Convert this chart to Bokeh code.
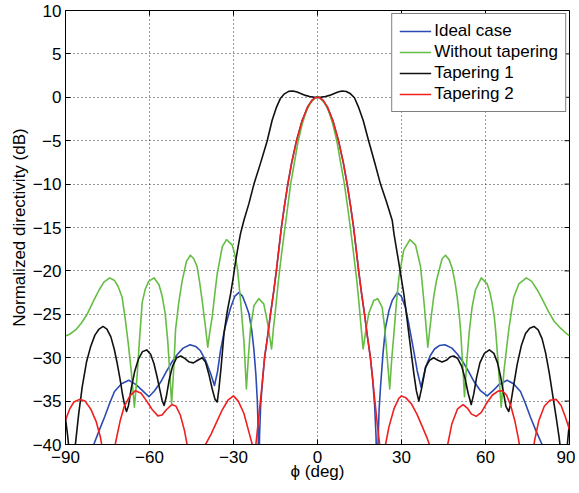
from bokeh.plotting import figure
from bokeh.models import Range1d, FixedTicker
from bokeh.embed import file_html
from bokeh.resources import INLINE

# ---------------- data ----------------
x_ticks = [-90, -60, -30, 0, 30, 60, 90]
y_ticks = [-40, -35, -30, -25, -20, -15, -10, -5, 0, 5, 10]

series_names = ["Ideal case", "Without tapering", "Tapering 1", "Tapering 2"]

phi_ideal = [-90, -86, -83, -81.5, -79.9, -78, -76, -74.3, -72.5, -70, -67.4, -64.8, -62.5, -60.2,
             -58.2, -56, -54, -52, -50, -48, -45.5, -43.5, -41.8, -40, -38.2, -36.8, -35.7, -34.6,
             -33, -31.1, -29.5, -28.1, -26.8, -25.6, -24.5, -23.5, -22.7, -22.0, -21.5, -21.2,
             -21.0, -20.7, -20.3, -19.6, -18.9, -17.8, -16.8, -15.7, -14.7, -13.8, -12.9, -11.8,
             -10.6, -9.2, -7.5, -5.5, -3.5, -2, -1, 0,
             1, 2, 3.5, 5.5, 7.5, 9.2, 10.6, 11.8, 12.9, 13.8, 14.7, 15.7, 16.8, 17.8, 18.9, 19.7,
             20.4, 20.9, 21.3, 21.6, 22.0, 22.5, 23.4, 24.3, 25.5, 26.7, 28.5, 29.9, 31.4, 32.6,
             33.8, 34.8, 35.6, 37.0, 38.6, 40.2, 41.8, 43.5, 45.5, 48, 50, 52, 54, 56, 58.2, 60.6,
             62.7, 64.8, 67.7, 70, 72.5, 74.3, 76, 78, 80.2, 83, 86, 90]
dir_ideal = [-55, -48, -43.5, -41.5, -40, -38.4, -36.8, -35.3, -33.9, -33.0, -32.6, -33.1, -33.8, -34.5,
             -33.8, -32.8, -31.6, -30.5, -29.6, -28.9, -28.5, -28.7, -29.2, -30.3, -31.8, -33.2, -31.6, -29.1,
             -26.5, -24.3, -22.9, -22.5, -22.9, -23.9, -24.9, -26.8, -29.1, -32.0, -34.9, -38,
             -45, -39, -35.5, -32.5, -30, -27.5, -25, -22.5, -20, -17.5, -15, -12.5,
             -10, -7.5, -5, -2.7, -1.1, -0.36, -0.09, 0,
             -0.09, -0.36, -1.1, -2.7, -5, -7.5, -10, -12.5, -15, -17.5, -20, -22.5, -25, -27.5, -30, -32.5,
             -35.5, -39, -45, -40, -36, -33.4, -29.5, -26.5, -24.6, -23.4, -22.5, -22.9, -24.2, -26.1,
             -28.2, -30.0, -31.5, -33.4, -31.1, -29.8, -29.0, -28.6, -28.5, -28.9, -29.6, -30.5, -31.6, -32.8, -33.8, -34.4,
             -33.8, -33.1, -32.6, -33.0, -33.9, -35.3, -36.8, -38.4, -40, -43, -47.5, -55]

phi_notaper = [-90, -88.5, -86.4, -84.3, -82.3, -79.9, -78, -76.3, -74.2, -72.5, -71.2, -69.8, -68.6,
               -67.5, -66.5, -65.4, -64.4, -63.5, -62.6, -61.5, -60.3, -58.4, -56.6, -55.5, -54.4,
               -53.5, -52.8, -52.1, -51.3, -50.7, -49.5, -48.3, -46.8, -45.4, -44.2, -43, -42.1,
               -41.2, -40, -39.2, -38.5, -37.6, -36.7, -35.8, -34, -32.5, -30.5, -29.6, -28.7,
               -28.1, -27.5, -26.9, -26.3, -25.8, -25.4, -24.7, -23.9, -22.7, -21, -19.2, -18,
               -17.2, -16.4, -15.7, -15, -14.3, -13.8, -12.9, -11.9, -11, -9.6, -8.4, -7.0, -5.5,
               -4, -2.5, -1, 0,
               1, 2.5, 4, 5.5, 7.0, 8.4, 9.6, 11, 12.0, 13, 14, 14.9, 15.6, 16.3, 17.2, 18.3, 20.1,
               21.5, 23.1, 23.9, 24.6, 25.2, 25.8, 26.5, 27.3, 28.2, 29.1, 30.8, 33, 35, 36.8,
               37.5, 38.2, 38.8, 39.4, 40.6, 41.5, 42.5, 44.5, 45.7, 47, 48.1, 49.1, 49.9, 50.6,
               51.1, 51.8, 52.5, 53.3, 54.2, 55.2, 56.4, 58.5, 60.6, 61.6, 62.4, 63.1, 63.6, 64.6,
               65.6, 66.6, 67.5, 68.3, 69.2, 70.1, 71.9, 74.6, 76.5, 78.5, 80.5, 82.5, 84.5, 86.8,
               88.5, 90]
dir_notaper = [-27.5, -27.3, -26.8, -26.0, -25.0, -23.4, -22.2, -21.3, -20.8, -21.1, -21.8, -23.0, -25.7,
               -28.6, -31.6, -35.7, -32.0, -27.6, -23.6, -22.1, -21.2, -20.8, -21.6, -22.9, -24.9,
               -28.0, -31.5, -35.3, -31.0, -26.8, -23.5, -21.1, -18.9, -18.2, -18.6, -19.5, -21.3,
               -23.4, -26.5, -28.8, -27.1, -25.3, -22.7, -20.3, -17.2, -16.4, -17.0, -18.0, -19.5,
               -21.3, -23.4, -25.7, -28.0, -31.0, -33.6, -30.0, -26.5, -24.0, -23.2, -23.8, -25.7,
               -27.3, -29.0, -26.5, -24.5, -22.2, -20.7, -18.2, -15.7, -13.5, -10.0, -7.8, -5.2, -3.1,
               -1.6, -0.64, -0.1, 0,
               -0.1, -0.64, -1.6, -3.1, -5.2, -7.8, -10.0, -13.2, -15.7, -18.3, -21.0, -24.0, -26.6, -29.0, -27.0, -24.9, -23.4,
               -23.2, -24.2, -26.3, -28.8, -31.2, -33.6, -30.2, -27.2, -23.6, -20.7, -17.6, -16.4, -17.0, -19.5,
               -21.8, -24.2, -26.5, -28.8, -25.3, -23.0, -21.1, -18.6, -18.2, -18.7, -19.7, -21.3, -23.0, -25.0,
               -26.8, -30.5, -34.5, -30.5, -27.0, -24.2, -22.2, -20.8, -21.5, -22.5, -23.8, -25.2, -26.8, -31.0,
               -35.7, -31.5, -29.0, -26.8, -24.8, -23.0, -21.5, -20.8, -21.2, -22.2, -23.4, -24.7, -25.8, -26.6,
               -27.1, -27.5]

phi_taper1 = [-90, -89.3, -88.6, -87.8, -87, -86.3, -85.3, -84, -82.5, -81, -79.5, -78, -76.6, -75.2,
              -73.8, -72.6, -71.5, -70.5, -69.6, -68.8, -68.2, -67.5, -66.5, -65.3, -64, -62.5, -61,
              -59.6, -58.4, -57.3, -56.3, -55.5, -54.8, -54, -53, -51.8, -50.3, -48.8, -47.3, -45.8,
              -44.3, -42.8, -41.2, -40.0, -38.8, -37.6, -36.6, -35.8, -35.2, -34.4, -33.4, -32.2,
              -31, -30.1, -29.3, -28.4, -27.5, -26.3, -24.5, -22.7, -20.4, -18, -16.2, -14.6, -13.2,
              -11.8, -10.3, -8.8, -7.3, -5.8, -4.3, -2.8, -1.4, 0,
              1.4, 2.8, 4.3, 5.8, 7.3, 8.8, 10.3, 11.8, 13.2, 14.6, 16.3, 18.3, 20.5, 22.5, 24.6,
              26.7, 27.3, 29, 30.8, 31.7, 32.6, 33.5, 34.4, 35.3, 36.2, 37.2, 38.6, 40, 41.5, 43,
              44.5, 46, 47.4, 48.7, 50.1, 51.5, 52.7, 53.8, 54.9, 55.8, 56.8, 58, 59.6, 61.4, 63,
              64.3, 65.4, 66.4, 67.3, 68.3, 69, 70, 71.3, 72.8, 74.3, 75.8, 77.3, 78.8, 80.2, 81.5,
              82.8, 84, 85.2, 86.3, 87.3, 88.2, 89.1, 90]
dir_taper1 = [-37.0, -38.8, -41.0, -44.0, -41.5, -39.5, -36.5, -33.3, -30.5, -28.7, -27.4, -26.7, -26.4, -26.7,
              -27.6, -29.0, -30.7, -32.5, -34.3, -35.6, -36.2, -35.5, -33.5, -31.6, -30.2, -29.3, -29.1,
              -29.6, -30.7, -32.2, -33.7, -34.9, -35.5, -34.5, -32.6, -31.0, -30.0, -29.8, -30.1, -30.5,
              -30.6, -30.3, -30.0, -30.5, -31.9, -33.6, -34.8, -35.1, -33.6, -31.0, -27.2, -24.6,
              -22.6, -20.8, -19.0, -17.3, -15.7, -14.2, -12.25, -10.0, -7.64, -5.07, -2.65, -1.1, -0.1,
              0.4, 0.68, 0.73, 0.6, 0.42, 0.22, 0.09, 0.02, 0,
              0.02, 0.09, 0.22, 0.42, 0.62, 0.73, 0.66, 0.4, -0.05, -1.1, -2.65, -5.07, -7.6, -10.0, -12.0,
              -14.2, -15.7, -19.0, -22.6, -24.8, -27.2, -29.5, -31.8, -33.8, -35.0, -33.5, -31.1, -30.3, -30.0, -30.3,
              -30.5, -30.3, -29.9, -29.8, -30.1, -31.0, -32.4, -34.1, -35.4, -34.2, -32.3, -30.6, -29.5, -29.1, -29.5,
              -30.6, -32.2, -34.0, -35.6, -36.2, -35.3, -33.3, -30.8, -28.6, -27.2, -26.6, -26.4, -26.8, -27.8, -29.5,
              -31.8, -34.3, -36.8, -39.2, -42.0, -44.0, -40.5, -37.3]

phi_taper2 = [-90, -88.5, -87, -85, -83, -81, -79, -77.5, -76.3, -74.8, -73.2, -72, -70.5, -69, -67,
              -65, -63, -61, -59, -57, -55.5, -54, -52, -50.5, -49, -47.5, -46.3, -44.5, -41.8, -40,
              -38, -36, -34, -32, -30, -28.3, -26.3, -24.8, -23.3, -22.7,
              -22.0, -21.2, -20.4, -19.6, -18.9, -17.8, -16.8, -15.7, -14.7, -13.8, -12.9, -11.8,
              -10.6, -9.2, -7.5, -5.5, -3.5, -2, -1, 0,
              1, 2, 3.5, 5.5, 7.5, 9.2, 10.6, 11.8, 12.9, 13.8, 14.7, 15.7, 16.8, 17.8, 18.9, 19.7,
              20.5, 21.3, 22.2, 22.9, 23.6, 24.3, 25.5, 27.3, 29, 30, 31.5, 33.5, 35.5, 37.5, 39.2,
              40.5, 43, 45.5, 46.5, 48, 50, 52, 53.5, 55, 56.7, 58.5, 60.5, 62.5, 64.5, 66, 67.5, 69,
              70.5, 71.8, 73, 75, 76.5, 77.5, 79, 81, 83, 85.2, 87, 88.5, 90]
dir_taper2 = [-37.2, -35.9, -35.1, -34.8, -35.0, -35.9, -37.4, -39.2, -41.5, -45.0, -41.5, -39.6, -37.3, -35.6, -34.4,
              -33.8, -34.1, -35.0, -36.0, -36.7, -36.6, -36.0, -35.4, -35.6, -36.6, -38.4, -40.5, -45.0, -42.0, -40.0,
              -38.8, -37.4, -36.0, -34.9, -34.4, -35.0, -36.4, -38.2, -40.0, -46.0,
              -40, -37.5, -35, -32.5, -30, -27.5, -25, -22.5, -20, -17.5, -15, -12.5,
              -10, -7.5, -5, -2.7, -1.1, -0.36, -0.09, 0,
              -0.09, -0.36, -1.1, -2.7, -5, -7.5, -10, -12.5, -15, -17.5, -20, -22.5, -25, -27.5, -30, -32.5,
              -35, -37.5, -40, -47, -42, -40, -38, -35.9, -34.7, -34.4, -34.6, -35.3, -36.5, -38.0, -39.3,
              -40.5, -45, -42, -40, -37.6, -35.9, -35.4, -35.8, -36.5, -36.75, -36.3, -35.2, -34.3, -33.85, -33.8, -34.3, -35.5,
              -37.3, -39.4, -42, -45, -42, -39.6, -37.3, -35.6, -34.9, -34.8, -35.5, -36.8, -38.3]

colors = ["#2b4bb3", "#66bd44", "#111111", "#ee2020"]

# ---------------- figure ----------------
FONT = "Liberation Sans"
FS = "17px"
X0, X1, Y0, Y1 = -90, 90, -40, 10
W, H = 575, 490
ML, MR, MT, MB = 65, 6, 10, 46

p = figure(width=W, height=H, x_range=Range1d(X0, X1), y_range=Range1d(Y0, Y1),
           output_backend="svg", toolbar_location=None,
           min_border_left=ML, min_border_right=MR, min_border_top=MT, min_border_bottom=MB)
p.background_fill_color = "white"
p.border_fill_color = "white"
p.outline_line_color = "black"
p.outline_line_width = 1

for ax in (p.xaxis[0], p.yaxis[0]):
    ax.major_tick_in = 5
    ax.major_tick_out = 0
    ax.minor_tick_line_color = None
    ax.axis_line_color = "black"
    ax.major_tick_line_color = "black"
    ax.major_label_text_font = FONT
    ax.major_label_text_font_size = FS
    ax.major_label_text_color = "black"
    ax.axis_label_text_font = FONT
    ax.axis_label_text_font_size = FS
    ax.axis_label_text_font_style = "normal"
    ax.axis_label_text_color = "black"

p.xaxis.ticker = FixedTicker(ticks=x_ticks)
p.yaxis.ticker = FixedTicker(ticks=y_ticks)
p.xaxis.axis_label = "ϕ (deg)"
p.yaxis.axis_label = "Normalized directivity (dB)"
p.xaxis.major_label_standoff = 6
p.xaxis.axis_label_standoff = -4
p.yaxis.major_label_standoff = 4
p.yaxis.axis_label_standoff = 1

p.xgrid.ticker = FixedTicker(ticks=x_ticks)
p.ygrid.ticker = FixedTicker(ticks=y_ticks)
for g in (p.xgrid[0], p.ygrid[0]):
    g.grid_line_color = "#333333"
    g.grid_line_dash = "1 3"
    g.grid_line_width = 1

# inward tick marks on the top and right edges of the box (5 px long)
frame_w = W - ML - MR
frame_h = H - MT - MB
tx = 5 * (X1 - X0) / frame_w
ty = 5 * (Y1 - Y0) / frame_h
p.segment(x0=x_ticks, y0=[Y1] * len(x_ticks), x1=x_ticks, y1=[Y1 - ty] * len(x_ticks),
          line_color="black", line_width=1)
p.segment(x0=[X1] * len(y_ticks), y0=y_ticks, x1=[X1 - tx] * len(y_ticks), y1=y_ticks,
          line_color="black", line_width=1)

series = [(phi_ideal, dir_ideal), (phi_notaper, dir_notaper),
          (phi_taper1, dir_taper1), (phi_taper2, dir_taper2)]
for (xs, ys), c, name in zip(series, colors, series_names):
    p.line(xs, ys, line_color=c, line_width=1.6, line_join="round", legend_label=name)

lg = p.legend[0]
lg.location = "top_right"
lg.margin = 3
lg.padding = 7
lg.spacing = 1
lg.glyph_width = 32
lg.glyph_height = 20
lg.label_height = 20
lg.label_standoff = 3
lg.label_text_font = FONT
lg.label_text_font_size = FS
lg.label_text_color = "black"
lg.border_line_color = "black"
lg.border_line_width = 1
lg.background_fill_alpha = 1.0

open("out.html", "w").write(file_html(p, INLINE))
